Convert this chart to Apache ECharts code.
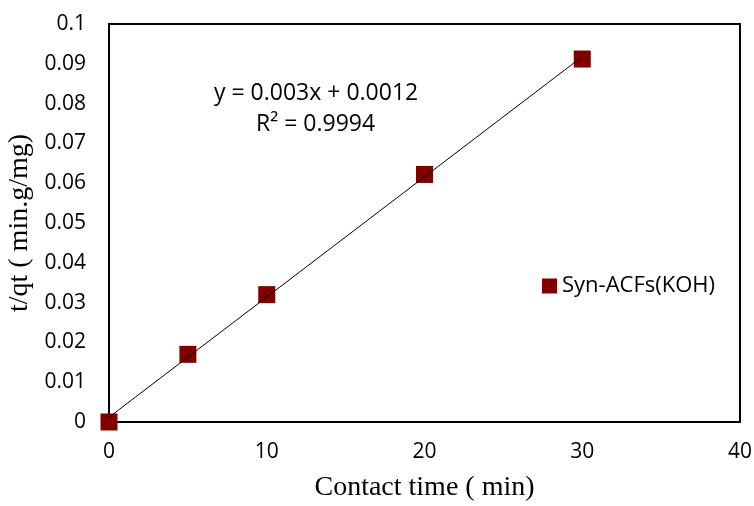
<!DOCTYPE html>
<html>
<head>
<meta charset="utf-8">
<script src="https://cdn.jsdelivr.net/npm/echarts@6/dist/echarts.min.js"></script>
<style>
html, body { margin: 0; padding: 0; background: #fff; }
#chart { width: 754px; height: 506px; }
</style>
</head>
<body>
<div id="chart"></div>
<script>
// data
var contactTime = [0, 5, 10, 20, 30];
var tqt = [0, 0.017, 0.032, 0.0622, 0.0912];
var trendX = [0, 30];
var trendY = [0.0012, 0.0918];
var eqText = 'y = 0.003x + 0.0012';
var r2Text = 'R² = 0.9994';

var points = contactTime.map(function (x, i) { return [x, tqt[i]]; });
var trend = trendX.map(function (x, i) { return [x, trendY[i]]; });

var chart = echarts.init(document.getElementById('chart'));
var option = {
    backgroundColor: '#fff',
    animation: false,
    grid: {
        left: 109,
        right: 14,
        top: 24,
        bottom: 84,
        outerBoundsMode: 'none',
        show: true,
        borderColor: '#000',
        borderWidth: 2
    },
    legend: {
        data: ['Syn-ACFs(KOH)'],
        left: 537,
        top: 270,
        icon: 'rect',
        itemWidth: 15,
        itemHeight: 15,
        itemGap: 6,
        textStyle: {
            fontFamily: 'Open Sans',
            fontSize: 22,
            color: '#000'
        }
    },
    xAxis: {
        type: 'value',
        min: 0,
        max: 40,
        interval: 10,
        name: 'Contact time ( min)',
        nameLocation: 'middle',
        nameGap: 52,
        nameTextStyle: {
            fontFamily: 'Liberation Serif',
            fontSize: 28,
            color: '#000'
        },
        axisLine: { show: true, lineStyle: { color: '#000', width: 2 } },
        axisTick: { show: false },
        splitLine: { show: false },
        axisLabel: {
            margin: 20,
            fontFamily: 'Open Sans',
            fontSize: 21,
            color: '#000'
        }
    },
    yAxis: {
        type: 'value',
        min: 0,
        max: 0.1,
        interval: 0.01,
        name: 't/qt ( min.g/mg)',
        nameLocation: 'middle',
        nameGap: 68,
        nameTextStyle: {
            fontFamily: 'Liberation Serif',
            fontSize: 28,
            color: '#000'
        },
        axisLine: { show: true, lineStyle: { color: '#000', width: 2 } },
        axisTick: { show: false },
        splitLine: { show: false },
        axisLabel: {
            margin: 23,
            fontFamily: 'Open Sans',
            fontSize: 21,
            color: '#000',
            formatter: function (v) { return String(parseFloat(v.toFixed(3))); }
        }
    },
    series: [
        {
            name: 'trend',
            type: 'line',
            data: trend,
            symbol: 'none',
            lineStyle: { color: '#000', width: 1 },
            z: 3
        },
        {
            name: 'Syn-ACFs(KOH)',
            type: 'scatter',
            data: points,
            symbol: 'rect',
            symbolSize: 17,
            itemStyle: { color: '#800000', opacity: 1 },
            z: 2
        }
    ],
    graphic: [
        {
            type: 'text',
            left: 214,
            top: 82,
            style: {
                text: eqText,
                fontFamily: 'Open Sans',
                fontSize: 23,
                fill: '#000'
            }
        },
        {
            type: 'text',
            left: 256,
            top: 113,
            style: {
                text: r2Text,
                fontFamily: 'Open Sans',
                fontSize: 23,
                fill: '#000'
            }
        }
    ]
};
chart.setOption(option);
window.addEventListener('resize', function () {
    chart.resize();
});
</script>
</body>
</html>
